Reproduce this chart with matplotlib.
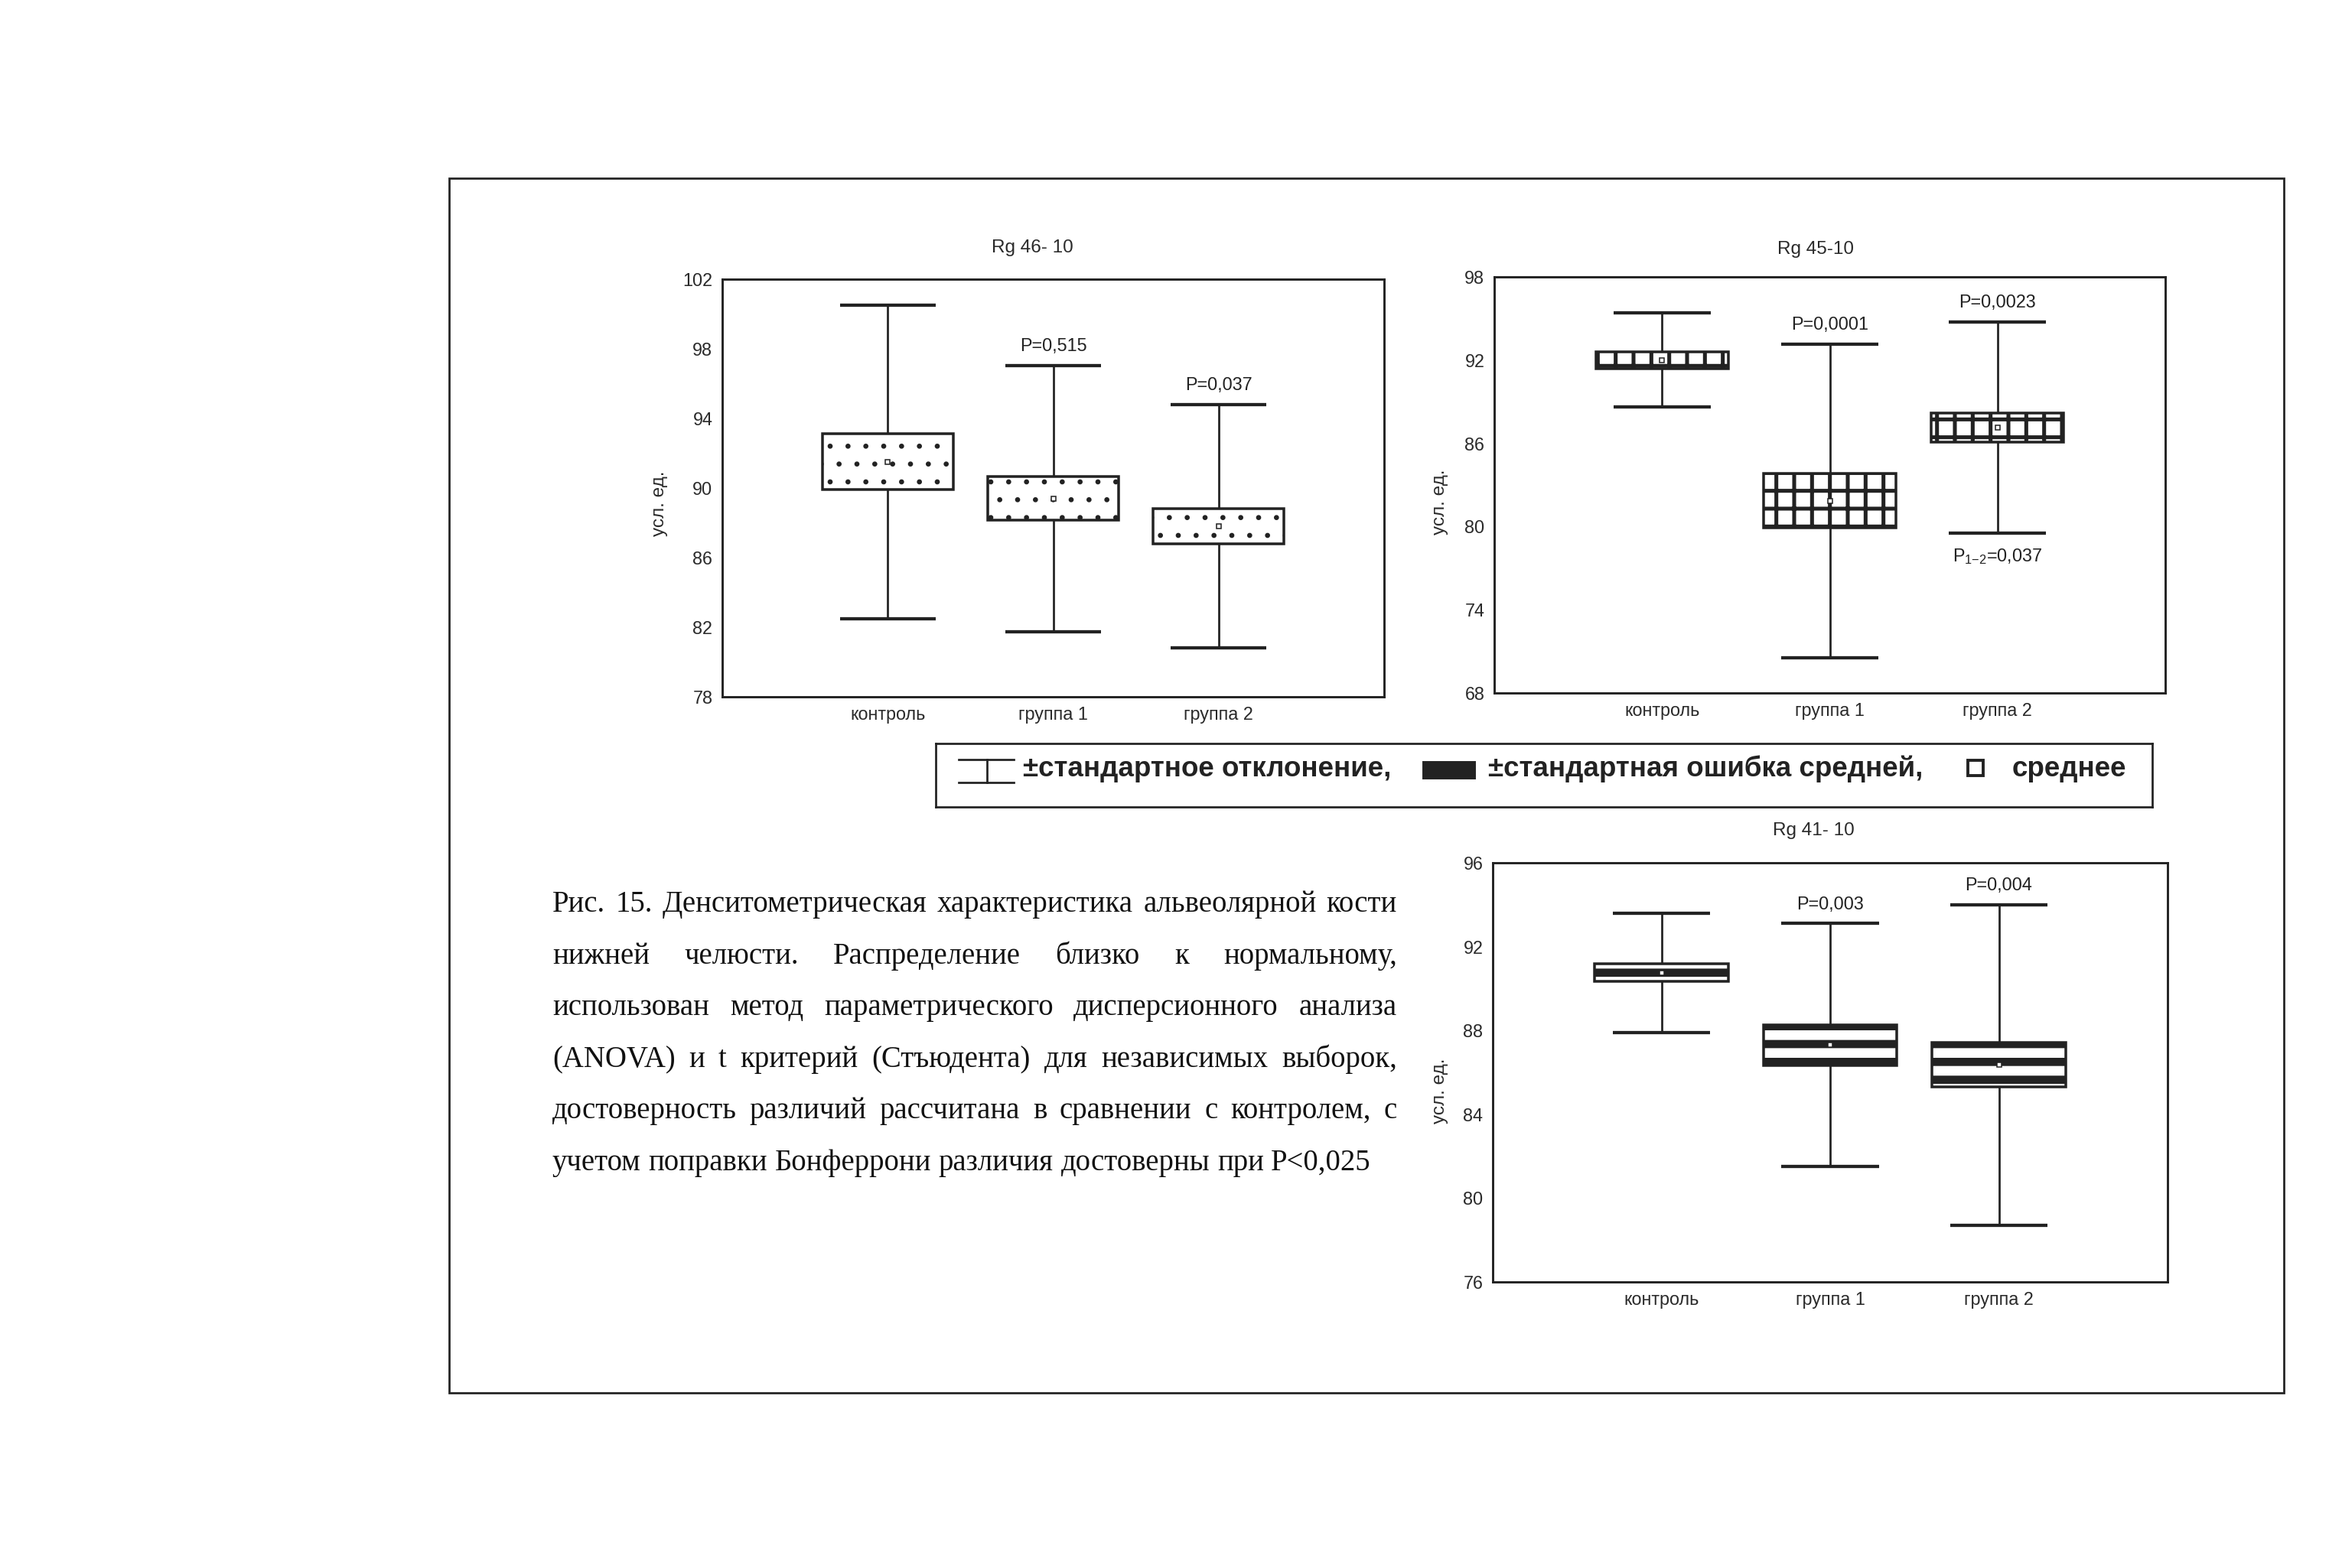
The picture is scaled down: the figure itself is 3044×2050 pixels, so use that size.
import numpy as np
import matplotlib.pyplot as plt
from matplotlib.patches import Rectangle

W, H, DPI = 3044, 2050, 140
INK = "#222222"

plt.rcParams["font.family"] = ["Liberation Sans", "DejaVu Sans"]
plt.rcParams["mathtext.fontset"] = "custom"
plt.rcParams["mathtext.rm"] = "Liberation Sans"

groups = ["контроль", "группа 1", "группа 2"]

# Rg 46-10 : mean, standard error, standard deviation
mean_46 = [91.5, 89.4, 87.8]
se_46 = [1.6, 1.25, 1.0]
sd_46 = [9.0, 7.65, 7.0]
p_46 = ["", "P=0,515", "P=0,037"]
yticks_46 = [78, 82, 86, 90, 94, 98, 102]

# Rg 45-10
mean_45 = [92.0, 81.85, 87.15]
se_45 = [0.6, 1.95, 1.05]
sd_45 = [3.4, 11.3, 7.6]
p_45 = ["", "P=0,0001", "P=0,0023"]
p12_45 = r"P$_{\mathregular{1{-}2}}$=0,037"
yticks_45 = [68, 74, 80, 86, 92, 98]

# Rg 41-10
mean_41 = [90.75, 87.3, 86.35]
se_41 = [0.42, 0.97, 1.06]
sd_41 = [2.85, 5.8, 7.65]
p_41 = ["", "P=0,003", "P=0,004"]
yticks_41 = [76, 80, 84, 88, 92, 96]

legend_labels = ["±стандартное отклонение,", "±стандартная ошибка средней,", "среднее"]

caption_lines = [
    "Рис. 15. Денситометрическая характеристика альвеолярной кости",
    "нижней челюсти. Распределение близко к нормальному,",
    "использован метод параметрического дисперсионного анализа",
    "(ANOVA) и t критерий (Стъюдента) для независимых выборок,",
    "достоверность различий рассчитана в сравнении с контролем, с",
    "учетом поправки Бонферрони различия достоверны при P<0,025",
]

fig = plt.figure(figsize=(W / DPI, H / DPI), dpi=DPI)
fig.patch.set_facecolor("white")
renderer = fig.canvas.get_renderer()


def fpos(x, y):
    return x / W, 1 - y / H


def panel(box, title, title_xy, ylab_xy, mean, se, sd, plabels, yticks, hatch, hatch_lw):
    l, t, r, b = box
    ax = fig.add_axes([l / W, 1 - b / H, (r - l) / W, (b - t) / H])
    x = np.arange(1, 4)
    mean, se, sd = np.array(mean), np.array(se), np.array(sd)
    ax.vlines(x, mean - sd, mean + sd, color=INK, lw=1.4, zorder=1)
    ax.hlines(mean + sd, x - 0.29, x + 0.29, color=INK, lw=2.2, zorder=1)
    ax.hlines(mean - sd, x - 0.29, x + 0.29, color=INK, lw=2.2, zorder=1)
    with plt.rc_context({"hatch.linewidth": hatch_lw}):
        bars = ax.bar(x, 2 * se, bottom=mean - se, width=0.79, facecolor="white",
                      edgecolor=INK, hatch=hatch, linewidth=1.8, zorder=2)
    for p in bars:
        if hasattr(p, "set_hatch_linewidth"):
            p.set_hatch_linewidth(hatch_lw)
    ax.plot(x, mean, "s", ms=3, mfc="white", mec=INK, mew=0.8, zorder=3)
    for xi, m, s, lbl in zip(x, mean, sd, plabels):
        if lbl:
            ax.annotate(lbl, (xi, m + s), xytext=(0, 13), textcoords="offset points",
                        ha="center", va="center", fontsize=12, color=INK)
    ax.set_xlim(0, 4)
    ax.set_ylim(yticks[0], yticks[-1])
    ax.set_xticks(x, groups)
    ax.set_yticks(yticks)
    ax.tick_params(length=0, labelsize=12, colors="#2a2a2a")
    ax.tick_params(axis="x", pad=6)
    ax.tick_params(axis="y", pad=6.5)
    for sp in ax.spines.values():
        sp.set_color(INK)
        sp.set_linewidth(1.5)
    ax.text(*title_xy, title, transform=ax.transAxes, ha="center", va="center",
            fontsize=12.5, color="#2a2a2a")
    ax.text(*ylab_xy, "усл. ед.", transform=ax.transAxes, rotation=90,
            ha="center", va="center", fontsize=12.5, color="#2a2a2a")
    return ax, x, mean, sd


panel((944, 365, 1809, 911), "Rg 46- 10", (0.469, 1.075), (-0.095, 0.463),
      mean_46, se_46, sd_46, p_46, yticks_46, ".", 1.0)
ax2, x2, m2, s2 = panel((1953, 362, 2830, 906), "Rg 45-10", (0.479, 1.066), (-0.081, 0.46),
                        mean_45, se_45, sd_45, p_45, yticks_45, "+", 2.6)
ax2.annotate(p12_45, (x2[2], m2[2] - s2[2]), xytext=(0, -16), textcoords="offset points",
             ha="center", va="center", fontsize=12, color=INK)
panel((1951, 1128, 2833, 1676), "Rg 41- 10", (0.475, 1.077), (-0.078, 0.456),
      mean_41, se_41, sd_41, p_41, yticks_41, "-", 5.5)

# outer frame
fig.add_artist(Rectangle(fpos(587, 1821), (2985 - 587) / W, (1821 - 233) / H,
                         transform=fig.transFigure, fill=False, lw=1.4, ec=INK))

# legend box
lax = fig.add_axes([1223 / W, 1 - 1055 / H, (2813 - 1223) / W, (1055 - 972) / H])
lax.set_xlim(1223, 2813)
lax.set_ylim(1055, 972)
lax.set_xticks([])
lax.set_yticks([])
for sp in lax.spines.values():
    sp.set_color(INK)
    sp.set_linewidth(1.4)
lax.plot([1253, 1325], [993, 993], color=INK, lw=1.4)
lax.plot([1253, 1325], [1023, 1023], color=INK, lw=1.4)
lax.plot([1290, 1290], [993, 1023], color=INK, lw=1.4)
lax.add_patch(Rectangle((1860, 996), 68, 22, fc=INK, ec=INK))
lax.plot([2582], [1004], "s", ms=10, mfc="white", mec=INK, mew=2)

probe = fig.text(0, 0, legend_labels[0], fontsize=10, fontweight="bold")
leg_size = 10 * 482 / probe.get_window_extent(renderer).width
probe.remove()
for xl, lbl in zip([1337, 1945, 2630], legend_labels):
    lax.text(xl, 1015, lbl, fontsize=leg_size, fontweight="bold", color=INK,
             ha="left", va="baseline")

# caption, justified
cap_font = dict(family=["Liberation Serif", "DejaVu Serif"], color="#111111")
probe = fig.text(0, 0, caption_lines[-1], fontsize=10, **cap_font)
cap_size = 10 * 1070 / probe.get_window_extent(renderer).width
probe.remove()
x0, x1 = 722, 1826
base_y = [1192, 1260, 1327, 1395, 1462, 1530]
for i, (line, y) in enumerate(zip(caption_lines, base_y)):
    words = line.split(" ")
    texts = [fig.text(0, 0, w, fontsize=cap_size, va="baseline", **cap_font) for w in words]
    widths = [t.get_window_extent(renderer).width for t in texts]
    if i < len(caption_lines) - 1:
        gap = (x1 - x0 - sum(widths)) / (len(words) - 1)
    else:
        gap = (1070 - sum(widths)) / (len(words) - 1)
    xx = x0
    for t, w in zip(texts, widths):
        t.set_position(fpos(xx, y))
        xx += w + gap

fig.savefig("out.png", dpi=DPI, facecolor="white")
